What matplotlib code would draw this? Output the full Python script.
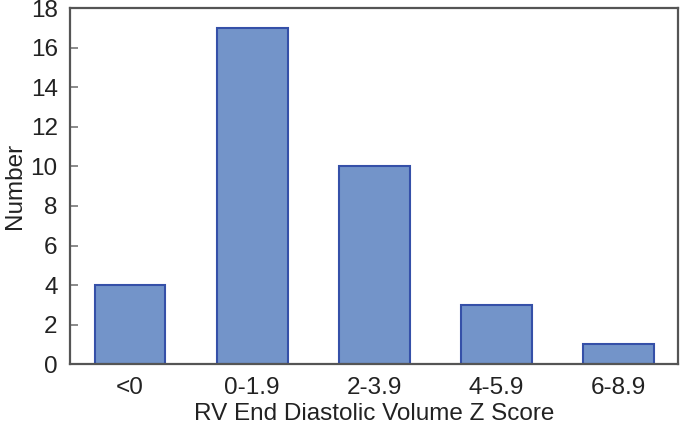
import numpy as np
import matplotlib
matplotlib.use("Agg")
import matplotlib.pyplot as plt

# data
categories = ["<0", "0-1.9", "2-3.9", "4-5.9", "6-8.9"]
counts = [4, 17, 10, 3, 1]
yticks = [0, 2, 4, 6, 8, 10, 12, 14, 16, 18]

plt.rcParams['font.family'] = ['Liberation Sans', 'DejaVu Sans']

fig = plt.figure(figsize=(6.81, 4.33), dpi=100)
ax = fig.add_axes([0.103, 0.159, 0.893, 0.822])

x = np.arange(len(categories))
ax.bar(x, counts, width=0.58, color='#7394c9', edgecolor='#3550a8',
       linewidth=1.5)

ax.set_xlim(-0.49, len(categories) - 0.51)
ax.set_ylim(0, 18)
ax.set_xticks(x)
ax.set_xticklabels(categories)
ax.set_yticks(yticks)

for s in ax.spines.values():
    s.set_color('#555555')
    s.set_linewidth(1.6)

ax.tick_params(axis='y', direction='in', length=6, width=1.2,
               color='#777777', labelsize=17.5, pad=9, labelcolor='#222222')
ax.tick_params(axis='x', length=0, labelsize=17.5, pad=9,
               labelcolor='#222222')

ax.set_ylabel("Number", fontsize=17.5, color='#222222', labelpad=3)
ax.set_xlabel("RV End Diastolic Volume Z Score", fontsize=17.5,
              color='#222222', labelpad=3)

fig.savefig("out.png", dpi=100)
